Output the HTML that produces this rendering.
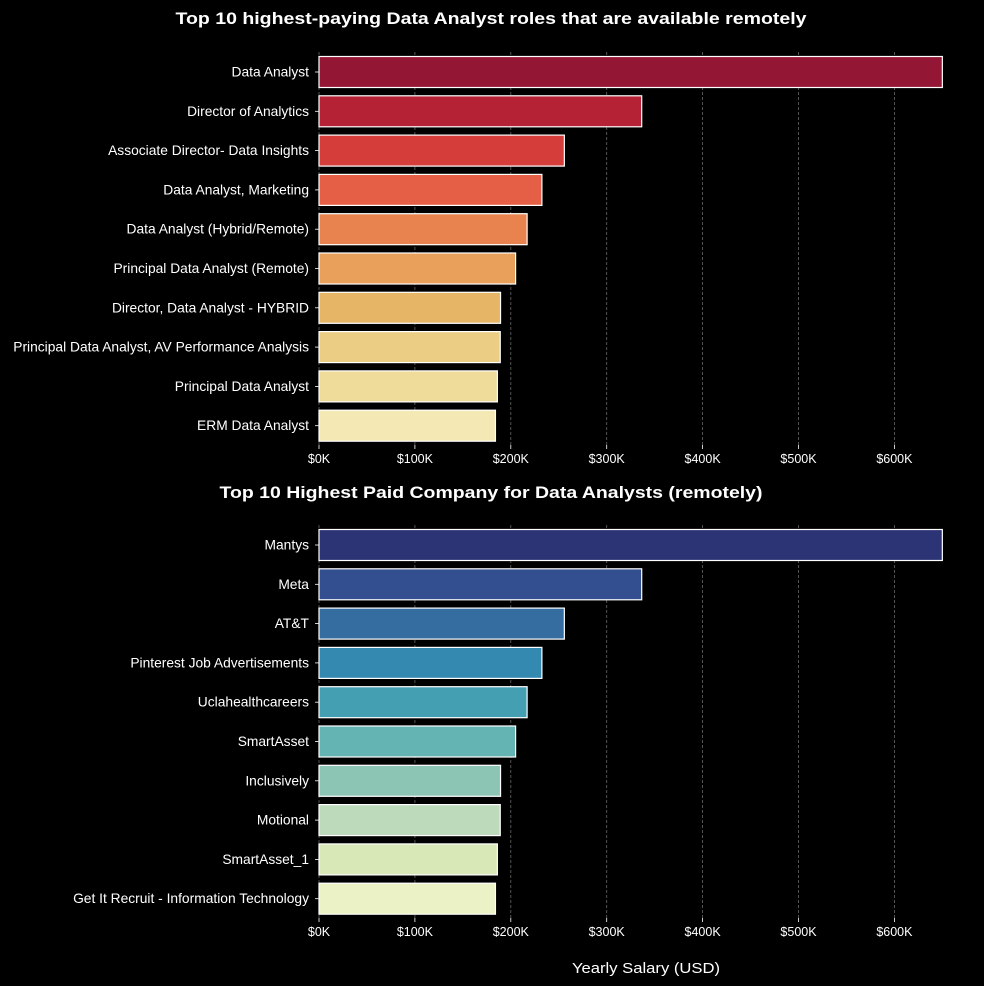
<!DOCTYPE html>
<html><head><meta charset="utf-8">
<style>
body{margin:0;background:#000;}
svg{display:block;font-family:"Liberation Sans",Arial,sans-serif;}
</style></head>
<body>
<svg id="chart" width="984" height="986" xmlns="http://www.w3.org/2000/svg">
<rect width="984" height="986" fill="#000"/>
</svg>
<script>
const roles = ["Data Analyst","Director of Analytics","Associate Director- Data Insights","Data Analyst, Marketing","Data Analyst (Hybrid/Remote)","Principal Data Analyst (Remote)","Director, Data Analyst - HYBRID","Principal Data Analyst, AV Performance Analysis","Principal Data Analyst","ERM Data Analyst"];
const roleSalaries = [650000,336500,255830,232423,217000,205000,189309,189000,186000,184000];
const companies = ["Mantys","Meta","AT&T","Pinterest Job Advertisements","Uclahealthcareers","SmartAsset","Inclusively","Motional","SmartAsset_1","Get It Recruit - Information Technology"];
const companySalaries = [650000,336500,255830,232423,217000,205000,189309,189000,186000,184000];
const tickValues = [0,100000,200000,300000,400000,500000,600000];
const tickLabels = ["$0K","$100K","$200K","$300K","$400K","$500K","$600K"];

const roleColors = ["#931734","#b52235","#d43d39","#e45f45","#e8834f","#e9a05a","#e7b566","#ebcd83","#efdc9b","#f4e9b5"];
const compColors = ["#2c3476","#344f90","#366da0","#3389af","#459fb3","#63b4b3","#8dc5b4","#bddbbb","#d8e8b7","#ebf2c6"];

const svg = document.getElementById('chart');
const NS = "http://www.w3.org/2000/svg";
const x0 = 319, pxPer = 0.959/1000;
function xScale(v){return x0 + v*pxPer;}
function mk(tag, attrs, text){
  const e = document.createElementNS(NS, tag);
  for (const k in attrs) e.setAttribute(k, attrs[k]);
  if (text !== undefined) e.textContent = text;
  svg.appendChild(e); return e;
}

function panel(name, title, titleY, titleLen, cats, vals, colors, firstCenter, axisTop, axisBottom){
  const pitch = 39.3, bh = 31;
  const t = mk('text',{x:491,y:titleY,'text-anchor':'middle','font-size':17,'font-weight':'bold',fill:'#fff',textLength:titleLen,lengthAdjust:'spacingAndGlyphs'},title);
  
  
  tickValues.forEach((tv,i)=>{
    const x = xScale(tv);
    const g = mk('line',{x1:x,x2:x,y1:axisTop,y2:axisBottom,stroke:'#666','stroke-width':0.8,'stroke-dasharray':'3,2'});
    
    
    const tk = mk('line',{x1:x,x2:x,y1:axisBottom,y2:axisBottom+4,stroke:'#fff','stroke-width':0.8});
    
    
    const tl = mk('text',{x:x,y:axisBottom+18,'text-anchor':'middle','font-size':12.5,fill:'#fff'},tickLabels[i]);
    
    
  });
  cats.forEach((c,i)=>{
    const cy = firstCenter + i*pitch;
    const r = mk('rect',{x:x0,y:cy-bh/2,width:xScale(vals[i])-x0,height:bh,fill:colors[i],stroke:'#fff','stroke-width':1.2});
    
    
    const tk = mk('line',{x1:x0-4,x2:x0,y1:cy,y2:cy,stroke:'#fff','stroke-width':0.8});
    
    
    const l = mk('text',{x:x0-10,y:cy+4.5,'text-anchor':'end','font-size':13.8,fill:'#fff'},c);
    
    
  });
}
panel('roles-chart','Top 10 highest-paying Data Analyst roles that are available remotely',24,631,roles,roleSalaries,roleColors,72,52,445);
panel('companies-chart','Top 10 Highest Paid Company for Data Analysts (remotely)',498,543,companies,companySalaries,compColors,545,525,918);
const xl = mk('text',{x:646,y:973,'text-anchor':'middle','font-size':14.5,fill:'#fff',textLength:148,lengthAdjust:'spacingAndGlyphs'},'Yearly Salary (USD)');


</script>
</body></html>
